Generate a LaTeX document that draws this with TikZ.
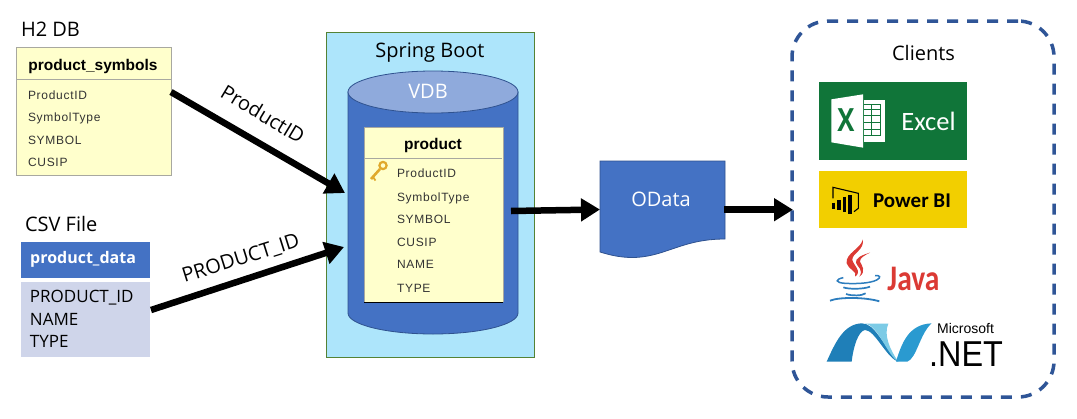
\documentclass[tikz,border=0pt]{standalone}
\usepackage{fontspec}
\setmainfont{Open Sans}
\newfontfamily\tblfont{Liberation Sans}
\newfontfamily\fldfont[LetterSpace=6]{Liberation Sans}
\newfontfamily\calfont{Carlito}
\usetikzlibrary{arrows.meta,shapes.geometric}
\definecolor{tblfill}{HTML}{FFFFCC}
\definecolor{tblline}{HTML}{A8A8A0}
\definecolor{blu}{HTML}{4472C4}
\definecolor{blulight}{HTML}{8FAADC}
\definecolor{bluedge}{HTML}{2F528F}
\definecolor{csvbody}{HTML}{CFD5EA}
\definecolor{sky}{HTML}{ADE5FB}
\definecolor{grn}{HTML}{548235}
\definecolor{dash}{HTML}{2F5597}
\definecolor{xl}{HTML}{107539}
\definecolor{pbi}{HTML}{F2CF00}
\definecolor{jred}{HTML}{DB3A34}
\definecolor{jblue}{HTML}{2C7DBE}
\definecolor{gold}{HTML}{E0A92C}
\definecolor{netdark}{HTML}{1F7FB8}
\definecolor{netlight}{HTML}{7CCBE6}
\definecolor{netmid}{HTML}{2A9AD0}
\tikzset{
  box/.style={rectangle,inner sep=0pt,outer sep=0pt},
  lbl/.style={inner sep=0pt,outer sep=0pt,font=\fontsize{20}{24}\selectfont,text=black},
  csvt/.style={inner sep=0pt,outer sep=0pt,anchor=base west,font=\fontsize{17}{20}\selectfont,text=black},
  fld/.style={inner sep=0pt,outer sep=0pt,anchor=base west,font=\fldfont\fontsize{12}{14}\selectfont,text=black!80},
  ttl/.style={inner sep=0pt,outer sep=0pt,anchor=base,font=\tblfont\bfseries\fontsize{15.5}{18}\selectfont,text=black},
  flow/.style={line width=6.5pt,black,-{Triangle[length=19pt,width=22pt]}},
}
\begin{document}
\begin{tikzpicture}[x=1pt,y=-1pt]
\useasboundingbox (0,0) rectangle (1077,418);
\fill[white] (0,0) rectangle (1077,418);

% H2 table
\node[lbl,anchor=base west] (h2lbl) at (21,36.7) {H2 DB};
\node[box,draw=tblline,line width=1pt,fill=tblfill,minimum width=155pt,minimum height=128pt] (h2tbl) at (93.5,111) {};
\draw[tblline,line width=.8pt] (16,79) -- (171,79);
\node[ttl] (h2ttl) at (93,70) {product\_symbols};
\node[fld] (f1) at (28,99.3) {ProductID};
\node[fld] (f2) at (28,121.8) {SymbolType};
\node[fld] (f3) at (28,144.3) {SYMBOL};
\node[fld] (f4) at (28,166.3) {CUSIP};

% CSV
\node[lbl,anchor=base west] (csvlbl) at (25,231.7) {CSV File};
\node[box,fill=blu,minimum width=129pt,minimum height=36pt] (csvhead) at (85.5,260) {};
\node[inner sep=0pt,anchor=base west,text=white,font=\bfseries\fontsize{16}{18}\selectfont] (csvttl) at (30,263) {product\_data};
\node[box,fill=csvbody,minimum width=129pt,minimum height=75pt] (csvbody) at (85.5,319.5) {};
\node[csvt] (c1) at (30,302) {PRODUCT\_ID};
\node[csvt] (c2) at (30,325) {NAME};
\node[csvt] (c3) at (30,347) {TYPE};

% Spring Boot
\node[box,draw=grn,line width=1pt,fill=sky,minimum width=208pt,minimum height=325pt] (spring) at (430,194.5) {};
\node[lbl,anchor=base] (springlbl) at (430,57.7) {Spring Boot};

% cylinder
\path[fill=blu,draw=bluedge,line width=.8pt] (348,92) -- (348,313) arc[start angle=180,end angle=360,x radius=85pt,y radius=21pt] -- (518,92) -- cycle;
\node[ellipse,inner sep=0pt,outer sep=0pt,fill=blulight,draw=bluedge,line width=.8pt,minimum width=170pt,minimum height=42pt] (vdb) at (433,92) {};
\node[lbl,anchor=base,text=white] (vdblbl) at (428,98.3) {VDB};

% product table
\node[box,fill=tblfill,minimum width=139pt,minimum height=175pt] (prod) at (433.5,214.5) {};
\draw[tblline,line width=1pt] (364,302) -- (364,127) -- (503,127) -- (503,302);
\draw[black,line width=1pt] (364,302) -- (503,302);
\draw[tblline,line width=.8pt] (365,158) -- (502,158);
\node[ttl] (prodttl) at (433,149) {product};
\node[fld] (p1) at (397,177.3) {ProductID};
\node[fld] (p2) at (397,201.3) {SymbolType};
\node[fld] (p3) at (397,223.8) {SYMBOL};
\node[fld] (p4) at (397,246.3) {CUSIP};
\node[fld] (p5) at (397,268.8) {NAME};
\node[fld] (p6) at (397,292.3) {TYPE};
% key
\draw[gold,line width=2.6pt] (380,169) -- (371,179);
\draw[gold,line width=1.8pt] (373,177) -- (375.5,180.5);
\draw[gold,line width=2.2pt] (383,165.5) circle[radius=3.6pt];

% OData
\path[fill=blu,draw=bluedge,line width=.8pt] (600,161) -- (725,161) -- (725,239) .. controls (680,239) and (665,258) .. (630,257.5) .. controls (618,257) and (610,255) .. (600,252) -- cycle;
\node[inner sep=0pt,anchor=base,text=white,font=\fontsize{20}{24}\selectfont] (odata) at (661,206.7) {OData};

% Clients
\node[box,draw=dash,line width=3.5pt,dash pattern=on 11pt off 9pt,rounded corners=36pt,minimum width=262pt,minimum height=376pt] (clients) at (923,209) {};
\node[lbl,anchor=base] (clientslbl) at (923.5,60) {Clients};

% Excel
\node[box,fill=xl,minimum width=148pt,minimum height=78pt] (excel) at (893,121) {};
\begin{scope}[shift={(819,80)},x=.3333pt,y=-.3333pt]
\fill[white] (37,58) -- (132,43) -- (132,203) -- (37,187) -- cycle;
\fill[white] (135,60) -- (197,60) -- (197,185) -- (135,185) -- cycle;
\foreach \yy in {72,90,108,128,148,168} \draw[xl,line width=1pt] (135,\yy) -- (185,\yy);
\draw[xl,line width=1pt] (158,72) -- (158,168);
\draw[xl,line width=1pt] (184,72) -- (184,168);
\end{scope}
\node[inner sep=0pt,text=xl,xscale=.8,font=\bfseries\fontsize{32}{32}\selectfont] (xmark) at (846,120) {X};
\node[inner sep=0pt,text=white,font=\calfont\fontsize{26.5}{30}\selectfont] (exceltxt) at (928.5,121) {Excel};

% Power BI
\node[box,fill=pbi,minimum width=148pt,minimum height=57pt] (powerbi) at (893,199.5) {};
\begin{scope}[shift={(819,80)},x=.3333pt,y=-.3333pt]
\draw[black,line width=1.1pt] (42,355) -- (42,322) -- (118,340) -- (118,385) -- (105,395);
\draw[black,line width=3.4pt] (43,368) -- (43,386);
\draw[black,line width=3.4pt] (60,360) -- (60,391);
\draw[black,line width=3.4pt] (77,350) -- (77,397);
\draw[black,line width=3.4pt] (93,345) -- (93,403);
\end{scope}
\node[inner sep=0pt,font=\calfont\bfseries\fontsize{21}{24}\selectfont] (pbitxt) at (912,201) {Power BI};

% Java and .NET logos
\begin{scope}[shift={(820,230)},x=.3333pt,y=-.3333pt]
\fill[jred] (128,28) .. controls (125,55) and (75,70) .. (80,100) .. controls (84,118) and (115,125) .. (105,140) .. controls (128,125) and (100,105) .. (97,90) .. controls (95,70) and (135,60) .. (128,28) -- cycle;
\fill[jred] (150,68) .. controls (125,75) and (105,85) .. (108,98) .. controls (112,112) and (132,118) .. (118,140) .. controls (140,125) and (125,105) .. (120,95) .. controls (118,85) and (135,75) .. (150,68) -- cycle;
\draw[jblue,line width=1.5pt] (70,143) .. controls (45,148) and (45,158) .. (75,160) .. controls (110,162) and (150,160) .. (170,150) .. controls (185,142) and (180,135) .. (165,137);
\draw[jblue,line width=1.7pt] (70,172) .. controls (85,178) and (130,178) .. (150,170);
\draw[jblue,line width=1.7pt] (78,192) .. controls (95,198) and (125,198) .. (137,190);
\draw[jblue,line width=1.8pt] (30,212) .. controls (60,200) and (140,202) .. (178,214);
% .NET ribbon
\fill[netdark] (20,395) .. controls (45,340) and (70,282) .. (125,280) .. controls (165,280) and (185,340) .. (235,395) .. controls (200,385) and (165,300) .. (135,300) .. controls (115,303) and (100,350) .. (95,395) -- cycle;
\fill[netlight] (135,281) -- (205,281) .. controls (190,315) and (210,360) .. (235,395) .. controls (200,375) and (175,285) .. (135,281) -- cycle;
\fill[netmid] (228,395) .. controls (245,340) and (265,283) .. (335,280) .. controls (300,310) and (290,385) .. (262,395) -- cycle;
\end{scope}
\node[inner sep=0pt,text=jred,xscale=.82,font=\calfont\bfseries\fontsize{36}{36}\selectfont] (javatxt) at (913.5,279) {Java};
\node[inner sep=0pt,font=\tblfont\fontsize{14}{14}\selectfont,anchor=west] (mstxt) at (937,328) {Microsoft};
\node[inner sep=0pt,font=\tblfont\fontsize{36}{36}\selectfont,anchor=base west,xscale=.9] (nettxt) at (929,366) {.NET};

% connectors
\coordinate (a1s) at (171,92);
\coordinate (a1e) at (345,193);
\coordinate (a2s) at (151,310);
\coordinate (a2e) at (344,247);
\coordinate (a3s) at (511,211);
\coordinate (a3e) at (600,209.5);
\coordinate (a4s) at (724,209.7);
\coordinate (a4e) at (793,209.7);
\draw[flow] (a1s) -- (a1e);
\draw[flow] (a2s) -- (a2e);
\draw[flow] (a3s) -- (a3e);
\draw[flow] (a4s) -- (a4e);
\node[lbl,rotate=-31] (l1) at (263,114) {ProductID};
\node[lbl,rotate=17.5] (l2) at (241,259) {PRODUCT\_ID};
\end{tikzpicture}
\end{document}
